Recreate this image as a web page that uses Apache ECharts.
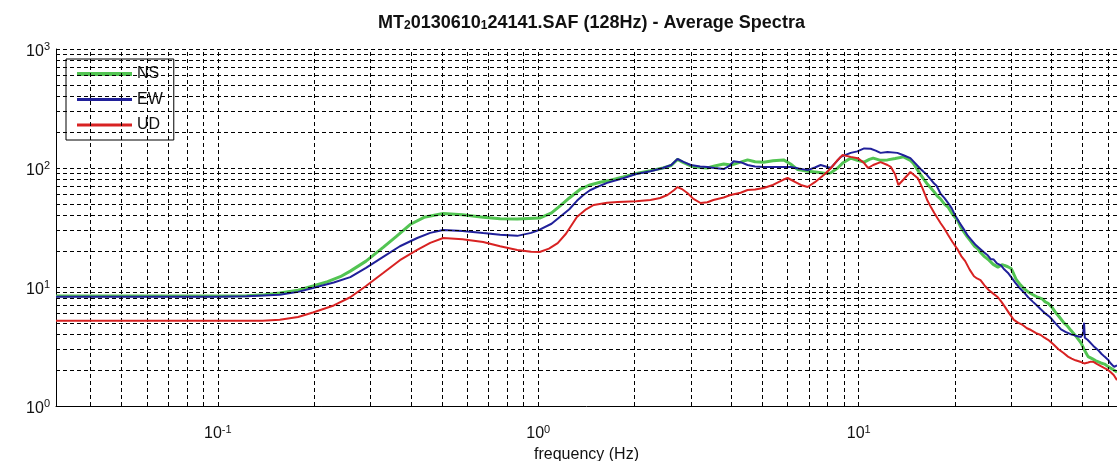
<!DOCTYPE html>
<html>
<head>
<meta charset="utf-8">
<script src="https://cdn.jsdelivr.net/npm/echarts@6/dist/echarts.min.js"></script>
<style>
  html, body { margin: 0; padding: 0; background: #fff; }
  #chart { width: 1117px; height: 461px; }
</style>
</head>
<body>
<div id="chart"></div>
<script>
// Average spectra of the three components (log-log)
const seriesNames = ['NS', 'EW', 'UD'];

const nsFreq = [0.03125, 0.06, 0.1, 0.123, 0.14, 0.156, 0.178, 0.198, 0.22, 0.241, 0.259, 0.29, 0.328, 0.36, 0.398, 0.44, 0.505, 0.58, 0.673, 0.76, 0.86, 1.01, 1.1, 1.17, 1.25, 1.35, 1.45, 1.56, 1.68, 1.84, 2.02, 2.24, 2.45, 2.6, 2.72, 2.82, 2.99, 3.2, 3.37, 3.55, 3.79, 4.0, 4.28, 4.5, 4.75, 5.05, 5.4, 5.83, 6.13, 6.45, 6.93, 7.44, 7.9, 8.18, 8.6, 8.91, 9.44, 9.9, 10.4, 10.8, 11.1, 11.7, 12.3, 13.0, 13.8, 14.5, 14.8,
  15.6, 16.0, 16.4, 16.8, 17.2, 17.6, 18.0, 18.5, 19.0, 19.6, 20.4, 20.8, 21.3, 21.8, 22.3, 23.0, 23.5, 24.0, 24.7, 25.5, 26.3, 27.2, 28.0, 28.5, 29.2, 29.9, 30.5, 31.0, 31.8, 32.8, 33.8, 35.0, 36.2, 37.5, 38.2, 39.0, 40.0, 41.0, 42.3, 43.7, 44.8, 46.0, 47.5, 49.4, 50.5, 52.0, 53.5, 55.0, 57.0, 58.5, 60.0, 62.7, 64.0];
const nsAmp  = [8.4, 8.4, 8.4, 8.45, 8.6, 8.9, 9.4, 10.2, 11.1, 12.2, 13.6, 16.5, 21.5, 26.5, 33.5, 38.5, 41.5, 40.5, 38.5, 37.5, 37.2, 38, 42, 48, 56, 66, 72, 76, 79, 84, 90, 95, 100, 105, 118, 112, 104, 101, 100, 104, 108, 106, 112, 117, 113, 112, 115, 117, 108, 97, 94, 92, 90, 91, 100, 110, 121, 116, 112, 118, 121, 116, 117, 120, 124, 116, 110,
  88, 80, 73, 68, 63, 58, 55, 50, 47, 41, 36, 32, 29, 26.5, 24.5, 22, 21, 19.5, 18, 16.8, 15.5, 14.7, 15.4, 15.2, 14.8, 14.3, 12.8, 11.6, 10.6, 9.7, 9.1, 8.6, 8.2, 7.9, 7.5, 7.3, 6.8, 6.2, 5.6, 5.0, 4.7, 4.3, 3.9, 3.4, 3.0, 2.6, 2.5, 2.4, 2.3, 2.25, 2.15, 2.0, 1.93];

const ewFreq = [0.03125, 0.06, 0.1, 0.123, 0.156, 0.178, 0.198, 0.23, 0.259, 0.29, 0.328, 0.37, 0.419, 0.46, 0.505, 0.58, 0.673, 0.76, 0.86, 0.95, 1.01, 1.1, 1.17, 1.25, 1.32, 1.38, 1.45, 1.56, 1.64, 1.84, 2.02, 2.24, 2.45, 2.6, 2.72, 2.85, 2.99, 3.2, 3.37, 3.55, 3.79, 3.95, 4.07, 4.28, 4.5, 4.75, 5.05, 5.5, 6.13, 6.5, 6.93, 7.3, 7.61, 8.18, 8.5, 8.79, 9.44, 9.9, 10.4, 10.9, 11.3, 11.7, 12.3, 13.2, 13.8, 14.5, 15.0,
  15.6, 16.0, 16.3, 16.8, 17.2, 17.5, 18.0, 18.5, 19.0, 19.5, 20.0, 20.6, 21.3, 21.9, 22.5, 23.2, 24.0, 24.6, 25.2, 25.8, 26.4, 27.0, 27.8, 28.5, 29.2, 30.0, 30.8, 31.8, 32.8, 33.8, 35.0, 36.0, 37.0, 38.2, 39.5, 41.0, 42.8, 44.2, 46.0, 47.5, 49.4, 50.2, 50.5, 50.8, 51.8, 52.5, 54.0, 55.8, 57.2, 58.5, 60.0, 61.0, 62.7, 64.0];
const ewAmp  = [8.3, 8.3, 8.3, 8.35, 8.6, 9.1, 9.8, 10.9, 12.1, 14.5, 17.9, 22, 25.8, 28.5, 30.1, 29.6, 28.4, 27.5, 26.9, 28.5, 30.3, 34, 39, 45, 53, 59, 65, 71, 75, 82, 89, 94, 100, 106, 119, 112, 106, 103, 102, 100, 98, 104, 114, 112, 106, 103, 102, 102, 102, 99, 96, 101, 106, 100, 112, 124, 134, 138, 146, 145, 140, 134, 136, 134, 128, 121, 110,
  98, 92, 88, 80, 74, 71, 61, 56, 51, 46, 40, 35, 30.5, 27, 24.8, 22.5, 20.8, 19.6, 18.6, 17.2, 17.0, 15.8, 15.2, 14.0, 13.2, 12.0, 10.9, 9.8, 9.0, 8.2, 7.5, 7.0, 6.5, 6.0, 5.6, 5.0, 4.4, 4.2, 4.0, 3.9, 3.8, 4.1, 5.0, 3.75, 3.6, 3.5, 3.2, 2.96, 2.75, 2.6, 2.45, 2.3, 2.13, 2.2];

const udFreq = [0.03125, 0.06, 0.1, 0.138, 0.156, 0.178, 0.198, 0.23, 0.259, 0.29, 0.328, 0.37, 0.419, 0.46, 0.505, 0.58, 0.673, 0.76, 0.86, 0.95, 1.01, 1.08, 1.15, 1.22, 1.32, 1.41, 1.49, 1.64, 1.77, 2.02, 2.24, 2.4, 2.53, 2.65, 2.72, 2.82, 2.92, 3.05, 3.21, 3.37, 3.52, 3.79, 3.98, 4.28, 4.5, 4.75, 5.05, 5.4, 5.83, 6.0, 6.3, 6.6, 6.93, 7.3, 7.78, 8.2, 8.6, 8.91, 9.44, 9.93, 10.4, 10.7, 11.1, 11.7, 12.3, 12.6, 13.0, 13.3, 13.8, 14.5,
  15.3, 15.8, 16.4, 16.8, 17.2, 17.6, 18.0, 18.5, 19.0, 19.6, 20.4, 20.9, 21.5, 22.2, 22.9, 23.4, 24.0, 24.7, 25.5, 26.3, 27.2, 27.9, 28.5, 29.5, 30.5, 31.5, 32.5, 33.5, 34.5, 35.8, 37.0, 38.0, 39.0, 40.5, 42.0, 43.5, 45.0, 46.2, 47.5, 49.4, 50.6, 52.0, 53.0, 54.2, 55.5, 57.0, 58.5, 60.0, 61.2, 62.5, 64.0];
const udAmp  = [5.2, 5.2, 5.2, 5.2, 5.3, 5.6, 6.1, 7.0, 8.2, 10.2, 13.1, 16.8, 20.5, 23.5, 25.8, 25.2, 23.9, 22, 20.5, 19.8, 19.7, 21, 23.4, 28, 38.7, 45, 48.9, 51, 51.8, 52.5, 53.8, 56, 59.3, 65, 69.2, 66, 61.7, 55, 50.8, 51.5, 53.8, 56.5, 59.3, 62, 65.3, 66, 67.9, 72, 80, 82.4, 77, 72, 69.2, 76, 87.3, 100, 116.8, 128.6, 124, 121, 110, 100, 106, 112, 106, 102, 88, 72, 80, 92.5,
  82, 68, 53, 47, 42, 38, 34.5, 31, 27.5, 24, 20.5, 18.2, 16.5, 14, 12.3, 11.8, 11.4, 10.3, 9.4, 8.8, 8.2, 7.5, 6.9, 6.0, 5.3, 5.0, 4.8, 4.5, 4.35, 4.1, 3.95, 3.75, 3.6, 3.3, 3.0, 2.8, 2.6, 2.5, 2.42, 2.34, 2.28, 2.32, 2.36, 2.34, 2.25, 2.16, 2.08, 2.01, 1.92, 1.82, 1.65];

const xGridValues = [0.04, 0.05, 0.06, 0.07, 0.08, 0.09, 0.1, 0.2, 0.3, 0.4, 0.5, 0.6, 0.7, 0.8, 0.9, 1, 2, 3, 4, 5, 6, 7, 8, 9, 10, 20, 30, 40, 50, 60];
const yGridValues = [2, 3, 4, 5, 6, 7, 8, 9, 10, 20, 30, 40, 50, 60, 70, 80, 90, 100, 200, 300, 400, 500, 600, 700, 800, 900, 1000];

const FONT = '"Liberation Sans", Arial, Helvetica, sans-serif';
const colors = { NS: '#52c452', EW: '#20209a', UD: '#d82222' };

function pairs(fs, vs) { return fs.map((f, i) => [f, vs[i]]); }

const powLabel = v => '{b|10}{s|' + Math.round(Math.log10(v)) + '}';
const labelRich = {
  b: { fontFamily: FONT, fontSize: 16, color: '#111', lineHeight: 20 },
  s: { fontFamily: FONT, fontSize: 11, color: '#111', verticalAlign: 'top', lineHeight: 20 }
};

const chart = echarts.init(document.getElementById('chart'), null, { renderer: 'canvas' });

const gridLineStyle = { color: '#000', width: 1, type: [4, 3] };

chart.setOption({
  animation: false,
  backgroundColor: '#fff',
  title: {
    text: 'MT{s|2}0130610{s|1}24141.SAF (128Hz) - Average Spectra',
    left: 373,
    top: 9,
    textStyle: {
      fontFamily: FONT, fontSize: 18, fontWeight: 'bold', color: '#111',
      rich: {
        s: { fontFamily: FONT, fontSize: 12, fontWeight: 'bold', color: '#111', verticalAlign: 'bottom' }
      }
    }
  },
  legend: {
    orient: 'vertical',
    left: 66,
    top: 59,
    padding: [7, 11, 7, 9],
    itemWidth: 55,
    itemHeight: 16,
    itemGap: 9.5,
    backgroundColor: '#fff',
    borderColor: '#000',
    borderWidth: 1,
    data: [
      { name: 'NS', lineStyle: { width: 4 } },
      { name: 'EW', lineStyle: { width: 3 } },
      { name: 'UD', lineStyle: { width: 3 } }
    ],
    itemStyle: { opacity: 0 },
    textStyle: { fontFamily: FONT, fontSize: 16, color: '#111', padding: [0, 0, 0, 0] }
  },
  grid: { left: 56, right: 0, top: 49, bottom: 55, containLabel: false, outerBoundsMode: 'none' },
  xAxis: {
    type: 'log',
    logBase: 10,
    min: 0.03125,
    max: 64,
    name: 'frequency (Hz)',
    nameLocation: 'middle',
    nameGap: 35,
    nameTextStyle: { fontFamily: FONT, fontSize: 16, color: '#111' },
    axisLine: { show: true, lineStyle: { color: '#000', width: 1 } },
    axisTick: { show: false },
    splitLine: { show: false },
    axisLabel: {
      margin: 18,
      formatter: powLabel,
      rich: labelRich,
      showMinLabel: false,
      showMaxLabel: false
    }
  },
  yAxis: {
    type: 'log',
    logBase: 10,
    min: 1,
    max: 1000,
    axisLine: { show: true, lineStyle: { color: '#000', width: 1 } },
    axisTick: { show: false },
    splitLine: { show: false },
    axisLabel: { margin: 6, padding: [5, 0, 0, 0], formatter: powLabel, rich: labelRich }
  },
  series: [
    {
      name: 'grid',
      type: 'line',
      data: [],
      silent: true,
      z: 1,
      markLine: {
        silent: true,
        symbol: ['none', 'none'],
        label: { show: false },
        lineStyle: gridLineStyle,
        emphasis: { disabled: true },
        animation: false,
        data: xGridValues.map(v => ({ xAxis: v })).concat(yGridValues.map(v => ({ yAxis: v })))
      }
    },
    {
      name: 'NS', type: 'line', data: pairs(nsFreq, nsAmp), symbol: 'none', z: 3,
      lineStyle: { color: colors.NS, width: 3 }, itemStyle: { color: colors.NS }
    },
    {
      name: 'EW', type: 'line', data: pairs(ewFreq, ewAmp), symbol: 'none', z: 4,
      lineStyle: { color: colors.EW, width: 2 }, itemStyle: { color: colors.EW }
    },
    {
      name: 'UD', type: 'line', data: pairs(udFreq, udAmp), symbol: 'none', z: 5,
      lineStyle: { color: colors.UD, width: 2 }, itemStyle: { color: colors.UD }
    }
  ]
});
</script>
</body>
</html>
